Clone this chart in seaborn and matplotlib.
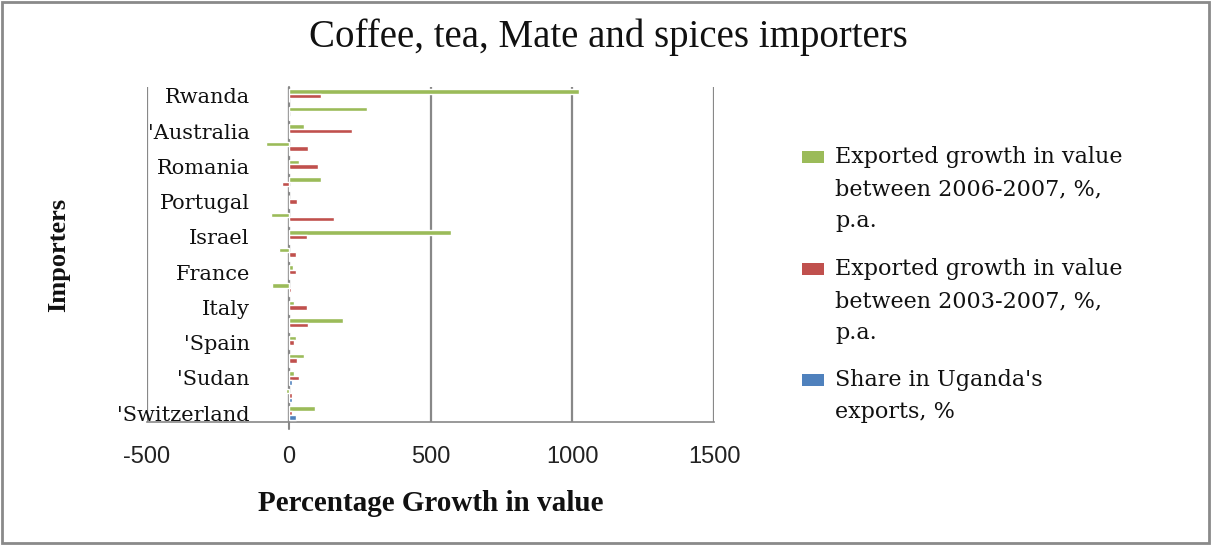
import matplotlib
matplotlib.use("Agg")
import matplotlib.pyplot as plt
from matplotlib.patches import Rectangle
import pandas as pd
import seaborn as sns

# Importers shown on the axis (every second row is labelled)
importers = ["Rwanda", "'Australia", "Romania", "Portugal", "Israel",
             "France", "Italy", "'Spain", "'Sudan", "'Switzerland"]
rows = list(range(19))

series_names = [
    "Exported growth in value\nbetween 2006-2007, %,\np.a.",
    "Exported growth in value\nbetween 2003-2007, %,\np.a.",
    "Share in Uganda's\nexports, %",
]
growth_2006_2007 = [1024, 276, 53, -80, 36, 114, 0, -63, 571, -35,
                    14, -59, 18, 192, 24, 53, 18, -8, 92]
growth_2003_2007 = [113, 0, 224, 69, 103, -25, 29, 158, 64, 25,
                    24, 8, 64, 69, 17, 28, 36, 10, 13]
share_exports = [0.5, 6, 6, 6, 6, 6, 6, 6, 6, 6,
                 6, 6, 6, 6, 6, 6, 13, 13, 25]

colors = ["#9BBB59", "#C0504D", "#4F81BD"]

df = pd.DataFrame({
    "row": rows * 3,
    "series": [series_names[0]] * 19 + [series_names[1]] * 19 + [series_names[2]] * 19,
    "value": growth_2006_2007 + growth_2003_2007 + share_exports,
})

sns.set_theme(style="white")
plt.rcParams["font.family"] = ["DejaVu Serif"]

fig = plt.figure(figsize=(12.11, 5.45), dpi=100)
ax = fig.add_axes([0.1214, 0.2257, 0.4682, 0.6147])

sns.barplot(data=df, x="value", y="row", hue="series", orient="h",
            order=rows, hue_order=series_names, palette=colors,
            width=0.76, saturation=1, legend=False, ax=ax, zorder=3)

grid_c = "#888888"
ax.set_xlim(-500, 1500)
ax.set_xticks([-500, 0, 500, 1000, 1500])
ax.set_xticklabels(["-500", "0", "500", "1000", "1500"],
                   fontfamily="Liberation Sans", fontsize=17, color="#222222")
ax.set_yticks(rows[::2])
ax.set_yticklabels(importers, fontsize=15, color="#111111")
ax.tick_params(axis="both", length=0)
ax.tick_params(axis="x", pad=17)
# category labels sit against the value-zero axis line
ax.tick_params(axis="y", pad=-74)

ax.xaxis.grid(True, color=grid_c, linewidth=1.6, zorder=0)
ax.yaxis.grid(False)
for side in ["top", "right", "left"]:
    ax.spines[side].set_visible(False)
ax.spines["bottom"].set_color(grid_c)
ax.spines["bottom"].set_linewidth(1.2)
ax.axvline(0, ymin=-0.02, ymax=1, color=grid_c, linewidth=1.5,
           clip_on=False, zorder=2)

ax.set_xlabel("Percentage Growth in value", fontfamily="Liberation Serif",
              fontweight="bold", fontsize=21, labelpad=16, color="#111111")
ax.set_ylabel("Importers", fontfamily="Liberation Serif", fontweight="bold",
              fontsize=19, color="#111111")
ax.yaxis.set_label_coords(-0.136, 0.5)

fig.text(0.502, 0.932, "Coffee, tea, Mate and spices importers",
         ha="center", va="center", fontfamily="Liberation Serif",
         fontsize=28, color="#111111")

# Legend: coloured keys with wrapped labels
key_y = [157, 269, 380]
line_gap = 32
for name, col, ky in zip(series_names, colors, key_y):
    fig.add_artist(Rectangle((802 / 1211, 1 - (ky + 6) / 545), 22 / 1211, 12 / 545,
                             transform=fig.transFigure, facecolor=col,
                             edgecolor="none"))
    for i, line in enumerate(name.split("\n")):
        fig.text(835 / 1211, 1 - (ky + i * line_gap) / 545, line,
                 ha="left", va="center", fontsize=16, color="#111111")

# Frame around the whole chart
fig.add_artist(Rectangle((0.002, 0.003), 0.996, 0.994, transform=fig.transFigure,
                         facecolor="none", edgecolor="#8a8a8a", linewidth=2))

fig.savefig("out.png", dpi=100)
